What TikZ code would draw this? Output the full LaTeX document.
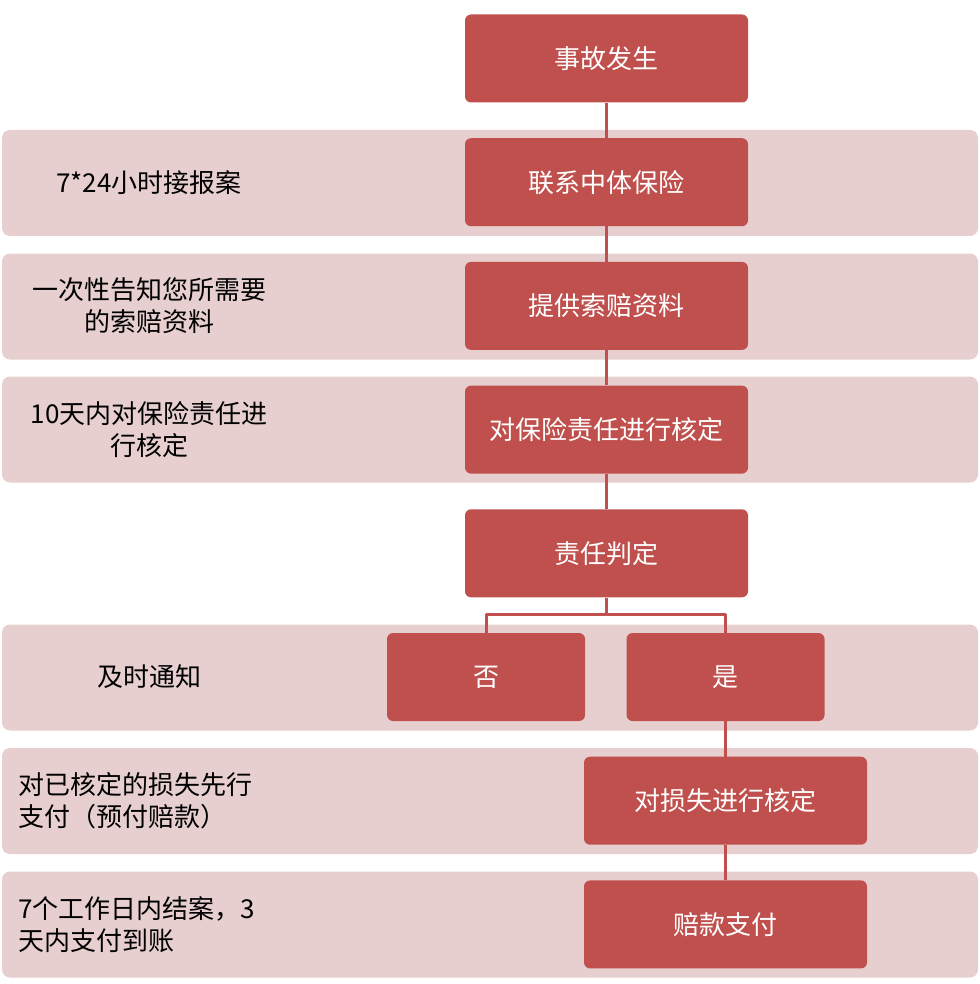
\documentclass[tikz,border=0pt]{standalone}
\usepackage{fontspec}
\setmainfont{Noto Sans CJK SC}
\usepackage{tikz}
\usepackage{xcolor}
\definecolor{boxred}{HTML}{C0504D}
\definecolor{bandpink}{RGB}{231,207,208}
\tikzstyle{stage} = [rectangle, rounded corners=6pt, fill=boxred, text=white, minimum width=283pt, minimum height=88pt, inner sep=0pt]
\tikzstyle{branch} = [stage, minimum width=198pt]
\tikzstyle{band} = [rectangle, rounded corners=8pt, fill=bandpink, minimum width=976pt, minimum height=106pt]
\tikzstyle{note} = [align=center, text=black, inner sep=0pt]
\tikzstyle{link} = [draw=boxred, line width=3pt, line join=round]

\begin{document}
\begin{tikzpicture}[x=1pt,y=1pt,node distance=123.7pt,font=\fontsize{26}{32}\selectfont]
  \useasboundingbox (0,0) rectangle (979,-984);
  \node[band] (B_eins) at (490,-183) {};
  \node[band] (B_zwei) at (490,-306.5) {};
  \node[band] (B_drei) at (490,-429.5) {};
  \node[band] (B_vier) at (490,-677.5) {};
  \node[band] (B_fuenf) at (490,-801) {};
  \node[band] (B_sechs) at (490,-924.5) {};

  \node[note] (N_eins) at (149,-183) {7*24小时接报案};
  \node[note] (N_zwei) at (149,-306) {一次性告知您所需要\\的索赔资料};
  \node[note] (N_drei) at (149,-430) {10天内对保险责任进\\行核定};
  \node[note] (N_vier) at (149,-677) {及时通知};
  \node[note, anchor=west, align=left] (N_fuenf) at (18,-801) {对已核定的损失先行\\支付（预付赔款）};
  \node[note, anchor=west, align=left] (N_sechs) at (18,-925) {7个工作日内结案，3\\天内支付到账};

  \node[stage] (Unfall) at (606.5,-58.5) {事故发生};
  \node[stage] (Kontakt) [below of=Unfall] {联系中体保险};
  \node[stage] (Unterlagen) [below of=Kontakt] {提供索赔资料};
  \node[stage] (Pruefung) [below of=Unterlagen] {对保险责任进行核定};
  \node[stage] (Urteil) [below of=Pruefung] {责任判定};
  \node[branch] (Nein) [below of=Urteil, xshift=-120.5pt] {否};
  \node[branch] (Ja) [below of=Urteil, xshift=119pt] {是};
  \node[stage] (Schaden) [below of=Ja] {对损失进行核定};
  \node[stage] (Zahlung) [below of=Schaden] {赔款支付};
  \coordinate[below of=Urteil, node distance=61.5pt] (Gabel);

  \path (Unfall) edge[link] (Kontakt);
  \path (Kontakt) edge[link] (Unterlagen);
  \path (Unterlagen) edge[link] (Pruefung);
  \path (Pruefung) edge[link] (Urteil);
  \draw[link] (Urteil) -- (Gabel) -| (Nein);
  \draw[link] (Gabel) -| (Ja);
  \path (Ja) edge[link] (Schaden);
  \path (Schaden) edge[link] (Zahlung);
\end{tikzpicture}
\end{document}
